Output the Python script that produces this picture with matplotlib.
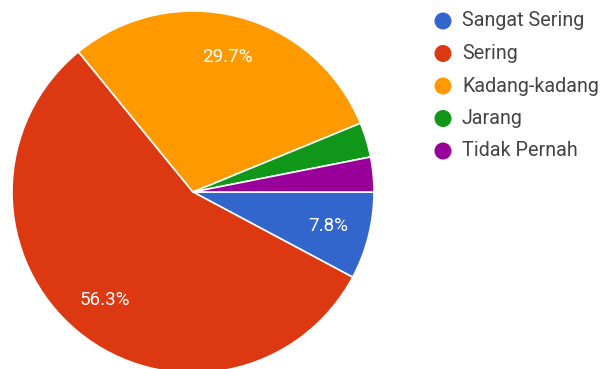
import matplotlib
matplotlib.use("Agg")
import matplotlib.pyplot as plt

plt.rcParams['font.family'] = ['Roboto', 'DejaVu Sans']

# share of responses per answer, in percent
labels = ["Sangat Sering", "Sering", "Kadang-kadang", "Jarang", "Tidak Pernah"]
shares = [7.8, 56.3, 29.7, 3.1, 3.1]
colors = ["#3366cc", "#dc3912", "#ff9900", "#109618", "#990099"]

W, H = 606, 369
fig = plt.figure(figsize=(W / 100, H / 100), dpi=100)
ax = fig.add_axes([0, 0, 1, 1])

def pct(p):
    # small slices get no label
    return f"{p:.1f}%" if p > 5 else ""

wedges, texts, autotexts = ax.pie(
    shares, colors=colors, startangle=0, counterclock=False,
    center=(193, -192), radius=181, autopct=pct, pctdistance=0.77,
    wedgeprops=dict(edgecolor="white", linewidth=1.2),
    textprops=dict(color="white", fontsize=13.5),
)
ax.set_xlim(0, W)
ax.set_ylim(-H, 0)
ax.set_aspect("equal")
ax.axis("off")

# legend on the right
for i, (lab, col) in enumerate(zip(labels, colors)):
    y = -21 - i * 32.5
    ax.scatter([443], [y], s=150, color=col, edgecolors="none", zorder=3)
    ax.text(462, y, lab, fontsize=14.2, color="#444444", va="center", ha="left")

fig.savefig("out.png", dpi=100)
